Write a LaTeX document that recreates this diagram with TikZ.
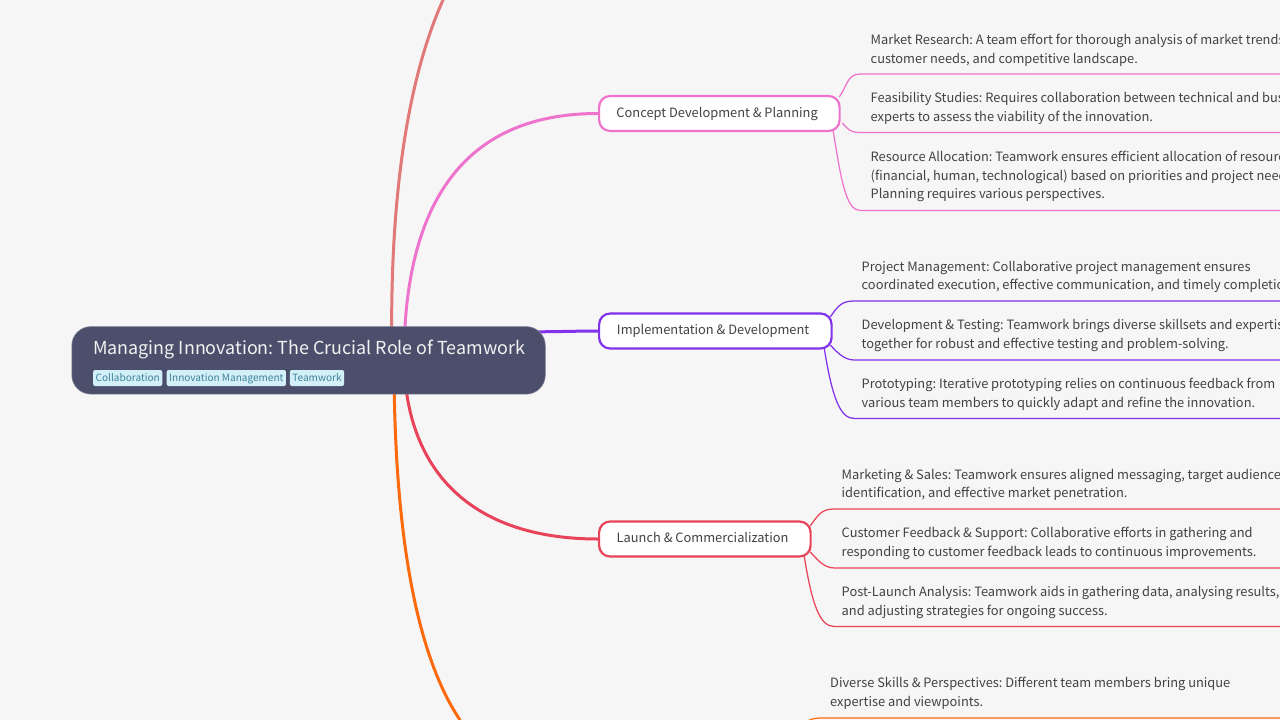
\documentclass[tikz,border=0pt]{standalone}
\usepackage{fontspec}
\setmainfont{Noto Sans CJK SC}
\definecolor{bg}{HTML}{F6F6F6}
\definecolor{rootfill}{HTML}{4C4F6B}
\definecolor{tagfill}{HTML}{D3F0F8}
\definecolor{tagtext}{HTML}{3F8299}
\definecolor{txt}{HTML}{424242}
\definecolor{cpink}{HTML}{EE73CC}
\definecolor{cpurple}{HTML}{8132EA}
\definecolor{cred}{HTML}{E9435A}
\definecolor{corange}{HTML}{FD6A0E}
\definecolor{csalmon}{HTML}{E27979}
\pgfdeclarelayer{lines}
\pgfsetlayers{lines,main}
\tikzset{
  x=1pt,y=-1pt,
  rootbox/.style={draw=rootfill!70!white,line width=0.6pt,fill=rootfill,rounded corners=19pt,minimum width=473.5pt,minimum height=67.5pt,inner sep=0pt,anchor=north west},
  tagbox/.style={fill=tagfill,rounded corners=2pt,text=tagtext,font=\fontsize{10.05}{13}\selectfont,inner xsep=2.5pt,inner ysep=2pt,text height=9pt,text depth=2pt,minimum height=16pt,anchor=west},
  titletext/.style={text=white!95!black,font=\fontsize{17.9}{24}\selectfont,anchor=west,inner sep=0pt},
  topicbox/.style={draw=#1,line width=2.2pt,fill=white,rounded corners=11pt,minimum height=35pt,inner xsep=18pt,inner ysep=0pt,text=txt,font=\fontsize{12.85}{18}\selectfont,anchor=west},
  leaftext/.style={text=txt,font=\fontsize{12.85}{18.7}\selectfont,align=left,anchor=west,inner sep=0pt},
  trunk/.style={draw=#1,line width=3pt,line cap=round},
  twig/.style={draw=#1,line width=1.25pt},
}
\begin{document}
\frenchspacing
\begin{tikzpicture}
\useasboundingbox (0,0) rectangle (1280,720);
\clip (0,0) rectangle (1280,720);

% root
\node[rootbox] (root) at (71.5,326.3) {};
\node[titletext] (title) at (93,349) {Managing Innovation: The Crucial Role of Teamwork};
\node[tagbox] (t1) at (93,378) {Collaboration};
\node[tagbox] (t2) at ([xshift=4pt]t1.east) {Innovation Management};
\node[tagbox] (t3) at ([xshift=3.5pt]t2.east) {Teamwork};

% topics
\node[topicbox=cpink,minimum width=240.5pt] (c1) at (598,113.5) {\hspace{-4.5pt}\raisebox{2.5pt}{Concept Development \& Planning}};
\node[topicbox=cpurple,minimum width=232.5pt] (c2) at (598,331) {\hspace{-4.5pt}\raisebox{2.5pt}{Implementation \& Development}};
\node[topicbox=cred,minimum width=211.5pt] (c3) at (598,539) {\hspace{-4.5pt}\raisebox{2.5pt}{Launch \& Commercialization}};

% free ends
\coordinate (eTop) at (443,0);
\coordinate (eOrange) at (460,720);
\foreach \n/\y in {a1/74,a2/132.5,a3/210.5,b1/301,b2/360,b3/418.5,d1/509,d2/568,d3/626.5,e1/718}
  \coordinate (\n) at (1280,\y);
\coordinate (e0) at (805,723);

\begin{pgfonlayer}{lines}
\fill[bg] (0,0) rectangle (1280,720);
\draw[trunk=csalmon] ([xshift=320.5pt]root.west) .. controls (389,210) and (405,85) .. (eTop);
\draw[trunk=corange] ([xshift=322.5pt]root.west) .. controls (394,520) and (413,650) .. (eOrange);
\draw[trunk=cpink] ([xshift=332.5pt]root.west) .. controls (404,215) and (455,113.5) .. (c1.west);
\draw[trunk=cpurple] ([xshift=-10pt,yshift=-5.5pt]root.north east) .. controls (555,331.8) and (580,331) .. (c2.west);
\draw[trunk=cred] ([xshift=332.5pt]root.west) .. controls (406,470) and (470,539) .. (c3.west);

\foreach \c/\col/\p/\q/\r/\ax/\ay/\bx/\by/\gx/\gy/\bend in {
  c1/cpink/a1/a2/a3/-1.5/16.5/1.5/-9.5/-7.5/-17.5/19.5,
  c2/cpurple/b1/b2/b3/-2.5/14/-2.5/-14/-8.5/-17/21.5,
  c3/cred/d1/d2/d3/-1.5/13/-1.5/-13/-7.5/-17/22.5}{
  \draw[twig=\col] ([xshift=\ax pt,yshift=\ay pt]\c.east) .. controls +(8,-11) and +(-13,0) .. ([xshift=\bend pt]\c.east |- \p) -- (\p);
  \draw[twig=\col] ([xshift=\bx pt,yshift=\by pt]\c.east) .. controls +(6,6) and +(-11,0) .. ([xshift=\bend pt]\c.east |- \q) -- (\q);
  \draw[twig=\col] ([xshift=\gx pt,yshift=\gy pt]\c.east) .. controls +(8,50) and +(-14,0) .. ([xshift=\bend pt]\c.east |- \r) -- (\r);
}
\draw[twig=corange] (e0) .. controls (810,719) and (814,718) .. (822,718) -- (e1);
\end{pgfonlayer}

% leaf texts
\node[leaftext] (l1) at (870.5,50) {Market Research: A team effort for thorough analysis of market trends,\\customer needs, and competitive landscape.};
\node[leaftext] (l2) at (870.5,108.7) {Feasibility Studies: Requires collaboration between technical and business\\experts to assess the viability of the innovation.};
\node[leaftext] (l3) at (870.5,176.5) {Resource Allocation: Teamwork ensures efficient allocation of resources\\(financial, human, technological) based on priorities and project needs.\\Planning requires various perspectives.};
\node[leaftext] (l4) at (861.5,277) {Project Management: Collaborative project management ensures\\coordinated execution, effective communication, and timely completion.};
\node[leaftext] (l5) at (861.5,335.7) {Development \& Testing: Teamwork brings diverse skillsets and expertise\\together for robust and effective testing and problem-solving.};
\node[leaftext] (l6) at (861.5,394.2) {Prototyping: Iterative prototyping relies on continuous feedback from\\various team members to quickly adapt and refine the innovation.};
\node[leaftext] (l7) at (841.5,485) {Marketing \& Sales: Teamwork ensures aligned messaging, target audience\\identification, and effective market penetration.};
\node[leaftext] (l8) at (841.5,543.7) {Customer Feedback \& Support: Collaborative efforts in gathering and\\responding to customer feedback leads to continuous improvements.};
\node[leaftext] (l9) at (841.5,602.2) {Post-Launch Analysis: Teamwork aids in gathering data, analysing results,\\and adjusting strategies for ongoing success.};
\node[leaftext] (l10) at (830,693) {Diverse Skills \& Perspectives: Different team members bring unique\\expertise and viewpoints.};
\end{tikzpicture}
\end{document}
